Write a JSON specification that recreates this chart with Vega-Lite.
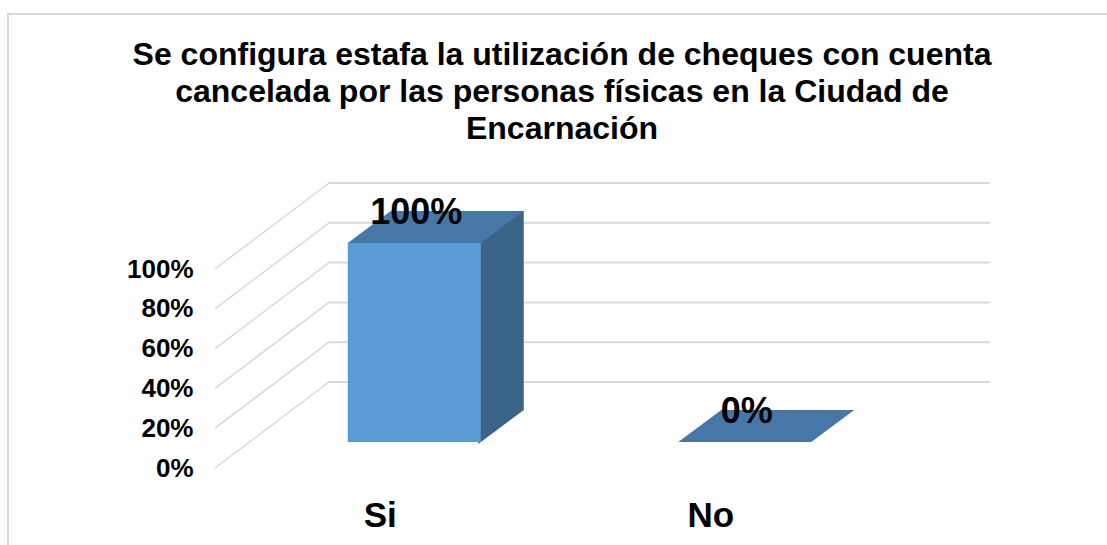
{
  "$schema": "https://vega.github.io/schema/vega-lite/v6.json",
  "width": 1110,
  "height": 540,
  "autosize": {"type": "none"},
  "padding": {"left": 8, "top": 14, "right": -11, "bottom": -9},
  "background": "white",
  "title": {
    "text": ["Se configura estafa la utilización de cheques con cuenta", "cancelada por las personas físicas en la Ciudad de", "Encarnación"],
    "fontSize": 32,
    "font": "Liberation Sans",
    "fontWeight": "bold",
    "color": "#000000",
    "lineHeight": 37,
    "anchor": "middle",
    "frame": "group",
    "offset": -132,
    "dx": -1
  },
  "config": {
    "view": {"stroke": "#d9d9d9", "strokeWidth": 2},
    "font": "Liberation Sans"
  },
  "datasets": {
    "answers": [
      {"respuesta": "Si", "porcentaje": 1},
      {"respuesta": "No", "porcentaje": 0}
    ],
    "grid": [{"v": 0}, {"v": 0.2}, {"v": 0.4}, {"v": 0.6}, {"v": 0.8}, {"v": 1}]
  },
  "layer": [
    {
      "data": {"name": "grid"},
      "mark": {"type": "rule", "color": "#d9d9d9", "strokeWidth": 2},
      "encoding": {
        "x": {"datum": "Si", "type": "nominal", "bandPosition": 0,
              "scale": {"domain": ["Si", "No"], "range": [321, 982], "paddingInner": 0, "paddingOuter": 0}},
        "x2": {"datum": "No", "bandPosition": 1},
        "y": {"field": "v", "type": "quantitative", "title": null,
              "scale": {"domain": [0, 1], "range": [368, 169], "nice": false, "zero": false}}
      }
    },
    {
      "data": {"name": "grid"},
      "mark": {"type": "rule", "color": "#d9d9d9", "strokeWidth": 1.5, "xOffset": -114, "yOffset": 86},
      "encoding": {
        "x": {"datum": "Si", "type": "nominal", "bandPosition": 0},
        "x2": {"datum": "Si", "bandPosition": 0},
        "y": {"field": "v", "type": "quantitative", "title": null},
        "y2": {"field": "v"}
      }
    },
    {
      "data": {"name": "answers"},
      "mark": {"type": "bar", "color": "#3b6489", "width": 133, "xOffset": -37, "x2Offset": -37, "yOffset": 28, "y2Offset": 28},
      "encoding": {
        "x": {"field": "respuesta", "type": "nominal", "sort": ["Si", "No"], "title": null},
        "y": {"field": "porcentaje", "type": "quantitative", "title": null}
      }
    },
    {
      "data": {"name": "answers"},
      "transform": [{"filter": "datum.porcentaje > 0"}],
      "mark": {"type": "point", "shape": "M-16,62L29.5,28L29.5,26L-16,26Z", "size": 4, "filled": true, "opacity": 1, "color": "#3b6489", "strokeWidth": 0},
      "encoding": {
        "x": {"field": "respuesta", "type": "nominal", "sort": ["Si", "No"], "title": null},
        "y": {"datum": 0, "type": "quantitative", "title": null}
      }
    },
    {
      "data": {"name": "answers"},
      "mark": {"type": "bar", "color": "#5b9bd5", "width": 133, "xOffset": -80, "x2Offset": -80, "yOffset": 60, "y2Offset": 60},
      "encoding": {
        "x": {"field": "respuesta", "type": "nominal", "sort": ["Si", "No"], "title": null,
              "axis": {"title": null, "domain": false, "ticks": false, "grid": false, "labelAngle": 0,
                       "labelFont": "Liberation Sans", "labelFontSize": 35, "labelFontWeight": "bold", "labelColor": "#000000",
                       "offset": -28, "labelPadding": 0, "labelOffset": -114, "labelBaseline": "alphabetic", "labelAlign": "center"}},
        "y": {"field": "porcentaje", "type": "quantitative", "title": null,
              "axis": {"title": null, "domain": false, "ticks": false, "grid": false,
                       "values": [0, 0.2, 0.4, 0.6, 0.8, 1], "format": ".0%",
                       "labelFont": "Liberation Sans", "labelFontSize": 26, "labelFontWeight": "bold", "labelColor": "#000000",
                       "offset": -185, "labelPadding": 0, "labelOffset": 86, "labelBaseline": "middle", "labelAlign": "right"}}
      }
    },
    {
      "data": {"name": "answers"},
      "mark": {"type": "point", "shape": "M-146.5,60L-13.5,60L29.5,28L-103.5,28Z", "size": 4, "filled": true, "opacity": 1, "color": "#4677a6", "strokeWidth": 0},
      "encoding": {
        "x": {"field": "respuesta", "type": "nominal", "sort": ["Si", "No"], "title": null},
        "y": {"field": "porcentaje", "type": "quantitative", "title": null}
      }
    },
    {
      "data": {"name": "answers"},
      "mark": {"type": "text", "font": "Liberation Sans", "fontSize": 36, "fontWeight": "bold", "color": "#000000",
               "align": "center", "baseline": "alphabetic", "xOffset": -78, "yOffset": 41},
      "encoding": {
        "x": {"field": "respuesta", "type": "nominal", "sort": ["Si", "No"], "title": null},
        "y": {"field": "porcentaje", "type": "quantitative", "title": null},
        "text": {"field": "porcentaje", "type": "quantitative", "format": ".0%"}
      }
    }
  ]
}
